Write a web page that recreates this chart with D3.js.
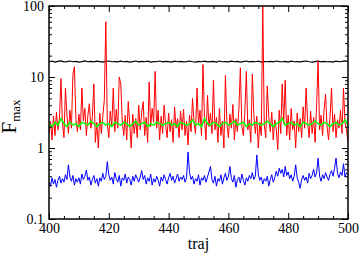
<!DOCTYPE html>
<html>
<head>
<meta charset="utf-8">
<script src="https://cdn.jsdelivr.net/npm/d3@7"></script>
<style>
  body { margin: 0; background: #fff; }
  svg { display: block; font-family: "Liberation Serif", "DejaVu Serif", serif; }
</style>
</head>
<body>
<svg id="chart" width="360" height="254"></svg>
<script>
// x runs 400..500; red/blue sampled every 0.5, green/black every 1
const xStart = 400, xEnd = 500;

const redVals = [
  1.6, 2.4, 1.3, 2.8, 1.5, 3.2, 1.8, 2.6, 9.5, 2.2,
  1.4, 7.0, 2.9, 1.6, 3.4, 1.9, 11.0, 14.0, 2.5, 1.7,
  3.0, 1.8, 7.0, 2.4, 3.6, 1.5, 2.9, 4.2, 1.9, 2.7,
  8.0, 1.2, 2.3, 1.0, 3.1, 1.6, 2.8, 4.8, 60.0, 2.2,
  1.4, 3.3, 2.0, 7.0, 1.7, 3.5, 1.9, 10.0, 8.0, 2.4,
  1.5, 2.9, 1.3, 4.5, 2.2, 1.0, 3.0, 1.6, 2.6, 1.4,
  4.0, 1.8, 3.2, 4.5, 1.5, 2.7, 1.2, 8.5, 2.0, 3.6,
  2.3, 12.0, 1.9, 3.4, 1.3, 2.8, 1.6, 4.0, 2.1, 1.4,
  3.1, 1.7, 2.5, 1.2, 3.8, 1.9, 2.6, 1.4, 3.3, 1.8,
  3.5, 1.5, 2.4, 1.1, 2.9, 1.7, 5.0, 2.3, 1.6, 7.0,
  2.1, 3.4, 1.5, 15.0, 2.6, 1.3, 5.5, 2.0, 3.1, 1.6,
  9.0, 1.8, 2.7, 1.2, 3.6, 1.5, 2.4, 1.0, 10.5, 2.2,
  1.4, 3.0, 1.9, 4.1, 1.3, 2.6, 1.7, 3.5, 13.5, 2.0,
  1.5, 3.2, 12.0, 1.8, 2.5, 1.2, 11.0, 3.0, 1.6, 2.8,
  1.0, 2.3, 1.5, 100, 2.1, 1.4, 7.5, 2.7, 1.7, 3.2,
  1.3, 2.5, 1.9, 0.95, 3.4, 1.6, 8.0, 2.2, 9.0, 1.5,
  2.9, 1.3, 3.6, 1.8, 2.4, 1.0, 3.1, 1.7, 2.6, 1.4,
  3.8, 1.9, 7.0, 2.3, 1.4, 3.3, 1.6, 2.7, 1.2, 4.0,
  17.0, 1.8, 2.9, 1.5, 3.5, 5.7, 2.0, 1.3, 2.8, 7.0,
  1.7, 3.0, 1.4, 2.5, 1.9, 3.4, 1.6, 7.0, 2.3, 1.8,
  1.2
];

const blueVals = [
  0.34, 0.29, 0.38, 0.31, 0.36, 0.28, 0.35, 0.40, 0.32, 0.37,
  0.33, 0.42, 0.36, 0.58, 0.39, 0.34, 0.41, 0.30, 0.37, 0.33,
  0.38, 0.31, 0.43, 0.36, 0.40, 0.49, 0.35, 0.39, 0.30, 0.36,
  0.41, 0.32, 0.37, 0.29, 0.38, 0.34, 0.44, 0.36, 0.40, 0.64,
  0.42, 0.35, 0.39, 0.31, 0.45, 0.37, 0.33, 0.41, 0.29, 0.38,
  0.35, 0.43, 0.32, 0.39, 0.36, 0.30, 0.40, 0.34, 0.42, 0.37,
  0.33, 0.39, 0.48, 0.36, 0.41, 0.31, 0.38, 0.34, 0.43, 0.30,
  0.37, 0.33, 0.40, 0.35, 0.29, 0.39, 0.34, 0.42, 0.36, 0.31,
  0.38, 0.44, 0.35, 0.40, 0.32, 0.37, 0.43, 0.34, 0.39, 0.36,
  0.41, 0.33, 0.38, 0.88, 0.45, 0.36, 0.40, 0.31, 0.37, 0.34,
  0.42, 0.30, 0.38, 0.35, 0.41, 0.33, 0.39, 0.46, 0.55, 0.36,
  0.32, 0.40, 0.29, 0.37, 0.34, 0.42, 0.31, 0.38, 0.44, 0.35,
  0.40, 0.55, 0.37, 0.33, 0.41, 0.28, 0.36, 0.39, 0.32, 0.43,
  0.35, 0.30, 0.38, 0.34, 0.41, 0.37, 0.45, 0.36, 0.40, 0.80,
  0.43, 0.35, 0.39, 0.31, 0.37, 0.34, 0.40, 0.29, 0.36, 0.42,
  0.33, 0.38, 0.47, 0.40, 0.52, 0.44, 0.50, 0.39, 0.55, 0.41,
  0.46, 0.37, 0.42, 0.34, 0.40, 0.58, 0.38, 0.33, 0.27, 0.36,
  0.41, 0.35, 0.39, 0.32, 0.44, 0.37, 0.41, 0.50, 0.39, 0.45,
  0.72, 0.40, 0.34, 0.42, 0.37, 0.45, 0.39, 0.35, 0.43, 0.48,
  0.40, 0.52, 0.72, 0.44, 0.38, 0.46, 0.41, 0.60, 0.39, 0.45,
  0.42
];

const greenVals = [
  2.2, 2.0, 2.3, 2.1, 2.6, 2.2, 2.0, 2.3, 2.1, 2.2,
  2.0, 2.3, 2.2, 2.1, 2.4, 2.2, 2.0, 2.2, 2.3, 2.1,
  2.2, 2.0, 2.3, 2.2, 2.1, 2.3, 2.2, 2.0, 2.2, 2.4,
  2.1, 2.2, 2.3, 2.0, 2.2, 2.1, 2.3, 2.2, 2.1, 2.2,
  2.3, 2.1, 2.2, 2.0, 2.3, 2.2, 2.1, 2.2, 2.5, 2.1,
  2.2, 2.0, 2.6, 2.2, 2.1, 2.3, 2.2, 2.0, 2.2, 2.3,
  2.1, 2.2, 2.4, 2.1, 2.2, 2.3, 2.0, 2.2, 2.1, 2.3,
  2.2, 2.1, 2.2, 2.4, 2.2, 2.0, 2.2, 2.3, 2.6, 2.1,
  2.2, 2.3, 2.1, 2.2, 2.0, 2.3, 2.2, 2.1, 2.2, 2.4,
  2.2, 2.1, 2.3, 2.2, 2.0, 2.2, 2.3, 2.1, 2.2, 2.5,
  2.1
];

const blackVals = [
  16.4, 16.7, 16.2, 16.6, 16.9, 16.3, 16.5, 16.8, 16.4, 16.6,
  16.2, 16.5, 16.9, 16.4, 16.6, 16.3, 16.7, 16.5, 16.2, 16.6,
  16.8, 16.4, 16.5, 16.3, 16.7, 16.4, 16.6, 16.2, 16.5, 16.8,
  16.3, 16.6, 16.4, 16.7, 16.2, 16.5, 16.4, 16.8, 16.3, 16.6,
  16.5, 16.2, 16.7, 16.4, 16.6, 16.3, 16.5, 16.8, 16.4, 16.2,
  16.6, 16.4, 16.7, 16.3, 16.5, 16.6, 16.2, 16.8, 16.4, 16.5,
  16.3, 16.7, 16.4, 16.6, 16.2, 16.5, 16.8, 16.3, 16.6, 16.4,
  16.7, 16.2, 16.5, 16.4, 16.6, 16.3, 16.8, 16.5, 16.4, 16.6,
  16.2, 16.7, 16.4, 16.5, 16.3, 16.6, 16.8, 16.4, 16.2, 16.5,
  16.7, 16.3, 16.6, 16.4, 16.5, 16.2, 16.7, 16.4, 16.6, 16.9,
  16.5
];

const xTicks = [400, 420, 440, 460, 480, 500];
const yTicks = [0.1, 1, 10, 100];
const yTickLabels = ["0.1", "1", "10", "100"];

const svg = d3.select("#chart");
const width = +svg.attr("width");
const height = +svg.attr("height");
const margin = { top: 6, right: 12, bottom: 35, left: 49 };
const innerWidth = width - margin.left - margin.right;
const innerHeight = height - margin.top - margin.bottom;

const xScale = d3.scaleLinear().domain([xStart, xEnd]).range([0, innerWidth]);
const yScale = d3.scaleLog().domain([0.1, 100]).range([innerHeight, 0]);

const g = svg.append("g").attr("transform", `translate(${margin.left},${margin.top})`);

// minor ticks
const xMinor = d3.range(xStart, xEnd + 0.1, 5).filter(v => v % 20 !== 0);
const yMinor = [];
[0.1, 1, 10].forEach(dec => { for (let k = 2; k <= 9; k++) yMinor.push(dec * k); });

const toSeries = (vals, step) => vals.map((v, i) => ({ x: xStart + i * step, y: v }));

const line = d3.line()
  .x(d => xScale(d.x))
  .y(d => yScale(d.y));

svg.append("clipPath").attr("id", "clip")
  .append("rect").attr("width", innerWidth).attr("height", innerHeight);

const plot = g.append("g").attr("clip-path", "url(#clip)");

plot.append("path").datum(toSeries(blackVals, 1))
  .attr("d", line).attr("fill", "none").attr("stroke", "#000").attr("stroke-width", 1.2);
plot.append("path").datum(toSeries(redVals, 0.5))
  .attr("d", line).attr("fill", "none").attr("stroke", "#ff0000").attr("stroke-width", 1);
plot.append("path").datum(toSeries(greenVals, 1))
  .attr("d", line).attr("fill", "none").attr("stroke", "#00ff00").attr("stroke-width", 1.5);
plot.append("path").datum(toSeries(blueVals, 0.5))
  .attr("d", line).attr("fill", "none").attr("stroke", "#0000ff").attr("stroke-width", 1);

// axes (ticks pointing inward)
const styleAxis = sel => {
  sel.select(".domain").remove();
  sel.selectAll("line").attr("stroke", "#000");
  sel.selectAll("text").attr("font-family", "Liberation Serif, serif").attr("font-size", 14).attr("fill", "#000");
};
const tickOnly = sel => {
  sel.select(".domain").remove();
  sel.selectAll("line").attr("stroke", "#000");
  sel.selectAll("text").remove();
};

g.append("g").attr("transform", `translate(0,${innerHeight})`)
  .call(d3.axisBottom(xScale).tickValues(xTicks).tickFormat(d3.format("d")).tickSizeInner(-6).tickSizeOuter(0).tickPadding(4))
  .call(styleAxis);
g.append("g").attr("transform", `translate(0,${innerHeight})`)
  .call(d3.axisBottom(xScale).tickValues(xMinor).tickSizeInner(-3).tickSizeOuter(0))
  .call(tickOnly);
g.append("g")
  .call(d3.axisTop(xScale).tickValues(xTicks).tickSizeInner(-6).tickSizeOuter(0))
  .call(tickOnly);
g.append("g")
  .call(d3.axisTop(xScale).tickValues(xMinor).tickSizeInner(-3).tickSizeOuter(0))
  .call(tickOnly);

g.append("g")
  .call(d3.axisLeft(yScale).tickValues(yTicks).tickFormat((d, i) => yTickLabels[i]).tickSizeInner(-6).tickSizeOuter(0).tickPadding(5))
  .call(styleAxis);
g.append("g")
  .call(d3.axisLeft(yScale).tickValues(yMinor).tickSizeInner(-3).tickSizeOuter(0))
  .call(tickOnly);
g.append("g").attr("transform", `translate(${innerWidth},0)`)
  .call(d3.axisRight(yScale).tickValues(yTicks).tickSizeInner(-6).tickSizeOuter(0))
  .call(tickOnly);
g.append("g").attr("transform", `translate(${innerWidth},0)`)
  .call(d3.axisRight(yScale).tickValues(yMinor).tickSizeInner(-3).tickSizeOuter(0))
  .call(tickOnly);

// frame
g.append("rect")
  .attr("width", innerWidth).attr("height", innerHeight)
  .attr("fill", "none").attr("stroke", "#000").attr("stroke-width", 1.5);

// axis titles
svg.append("text")
  .attr("x", margin.left + innerWidth / 2)
  .attr("y", 249)
  .attr("text-anchor", "middle")
  .attr("font-size", 16)
  .text("traj");

const yl = svg.append("text")
  .attr("transform", `translate(16,${margin.top + innerHeight / 2 + 4}) rotate(-90)`)
  .attr("text-anchor", "middle");
yl.append("tspan").attr("font-size", 21).text("F");
yl.append("tspan").attr("font-size", 13).attr("dy", 4).text("max");
</script>
</body>
</html>
